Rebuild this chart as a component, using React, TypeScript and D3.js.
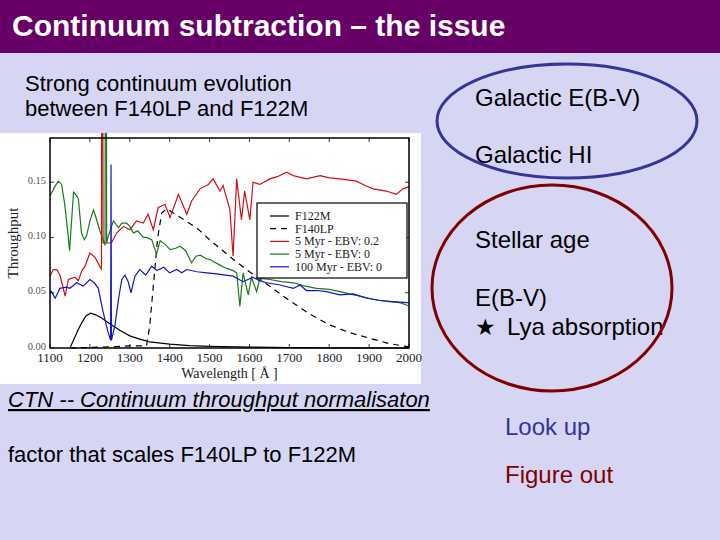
import * as d3 from 'd3';

type Pt = [number, number];

// wavelength [Å], throughput
const f122m: Pt[] = [
  [1150, 0], [1160, 0.008], [1170, 0.016], [1180, 0.023], [1190, 0.029], [1202, 0.0315],
  [1215, 0.03], [1230, 0.027], [1250, 0.022], [1275, 0.016], [1300, 0.011], [1325, 0.008],
  [1350, 0.0055], [1400, 0.0035], [1450, 0.0022], [1500, 0.0015], [1600, 0.0008],
  [1700, 0.0004], [1800, 0.0002], [2000, 0],
];

const f140lp: Pt[] = [
  [1150, 0], [1250, 0.001], [1300, 0.002], [1342, 0.002], [1350, 0.02], [1360, 0.06],
  [1370, 0.1], [1380, 0.122], [1392, 0.126], [1410, 0.122], [1440, 0.115], [1470, 0.108],
  [1500, 0.098], [1530, 0.089], [1560, 0.08], [1600, 0.069], [1650, 0.056], [1700, 0.043],
  [1750, 0.031], [1800, 0.021], [1850, 0.014], [1900, 0.009], [1950, 0.004], [2000, 0.001],
];

const myr5Ebv02: Pt[] = [
  [1100, 0.065], [1108, 0.071], [1117, 0.071], [1125, 0.066], [1138, 0.047], [1146, 0.062],
  [1163, 0.064], [1171, 0.061], [1180, 0.07], [1188, 0.074], [1200, 0.086], [1213, 0.082],
  [1229, 0.071], [1231, 0.6], [1233, 0.095], [1254, 0.095], [1267, 0.104], [1284, 0.11],
  [1300, 0.107], [1317, 0.115], [1334, 0.113], [1346, 0.121], [1359, 0.107], [1371, 0.127],
  [1388, 0.13], [1401, 0.118], [1422, 0.139], [1443, 0.121], [1455, 0.133], [1476, 0.144],
  [1497, 0.148], [1509, 0.153], [1526, 0.142], [1534, 0.147], [1551, 0.125], [1559, 0.083],
  [1568, 0.153], [1580, 0.116], [1588, 0.142], [1601, 0.116], [1609, 0.15], [1626, 0.148],
  [1651, 0.153], [1670, 0.155], [1693, 0.159], [1710, 0.156], [1743, 0.153], [1777, 0.156],
  [1800, 0.154], [1827, 0.153], [1868, 0.151], [1890, 0.147], [1910, 0.144], [1943, 0.142],
  [1968, 0.139], [1985, 0.144], [2000, 0.146],
];

const myr5Ebv0: Pt[] = [
  [1100, 0.138], [1104, 0.14], [1112, 0.146], [1121, 0.151], [1129, 0.148], [1137, 0.13],
  [1146, 0.1], [1149, 0.088], [1159, 0.141], [1166, 0.138], [1171, 0.135], [1179, 0.104],
  [1186, 0.098], [1192, 0.102], [1200, 0.115], [1209, 0.125], [1217, 0.116], [1225, 0.106],
  [1238, 0.093], [1240, 0.6], [1242, 0.095], [1246, 0.101], [1259, 0.115], [1272, 0.109],
  [1280, 0.113], [1292, 0.113], [1300, 0.11], [1309, 0.104], [1320, 0.106], [1334, 0.1],
  [1342, 0.1], [1355, 0.098], [1367, 0.085], [1376, 0.097], [1388, 0.094], [1401, 0.089],
  [1414, 0.09], [1426, 0.092], [1440, 0.088], [1455, 0.077], [1466, 0.083], [1477, 0.084],
  [1490, 0.081], [1501, 0.08], [1526, 0.075], [1543, 0.072], [1559, 0.07], [1568, 0.068],
  [1576, 0.0375], [1584, 0.068], [1597, 0.048], [1605, 0.064], [1618, 0.051], [1626, 0.063],
  [1651, 0.062], [1680, 0.06], [1710, 0.059], [1740, 0.056], [1768, 0.054], [1800, 0.053],
  [1827, 0.051], [1850, 0.049], [1877, 0.047], [1900, 0.045], [1927, 0.043], [1950, 0.042],
  [1977, 0.041], [2000, 0.038],
];

const myr100Ebv0: Pt[] = [
  [1100, 0.052], [1104, 0.051], [1113, 0.045], [1125, 0.054], [1140, 0.055], [1150, 0.054],
  [1167, 0.059], [1183, 0.056], [1200, 0.062], [1211, 0.059], [1221, 0.054], [1233, 0.033],
  [1245, 0.015], [1252, 0.007], [1253, 0.166], [1254, 0.007], [1263, 0.021], [1272, 0.045],
  [1280, 0.062], [1288, 0.066], [1296, 0.06], [1303, 0.05], [1313, 0.065], [1325, 0.071],
  [1340, 0.066], [1355, 0.074], [1368, 0.07], [1385, 0.073], [1400, 0.068], [1418, 0.071],
  [1430, 0.068], [1443, 0.071], [1468, 0.069], [1493, 0.068], [1518, 0.067], [1540, 0.066],
  [1559, 0.065], [1584, 0.06], [1609, 0.064], [1625, 0.061], [1643, 0.059], [1677, 0.057],
  [1710, 0.054], [1727, 0.057], [1743, 0.052], [1770, 0.052], [1793, 0.051], [1827, 0.048],
  [1860, 0.049], [1894, 0.045], [1927, 0.043], [1960, 0.042], [1994, 0.041], [2000, 0.041],
];

const xTicks = [1100, 1200, 1300, 1400, 1500, 1600, 1700, 1800, 1900, 2000];
const yTicks = [0, 0.05, 0.1, 0.15];

const series = [
  { name: 'F122M', data: f122m, color: '#000000', dash: undefined },
  { name: 'F140LP', data: f140lp, color: '#000000', dash: '6,5' },
  { name: '5 Myr - EBV: 0.2', data: myr5Ebv02, color: '#cc1111', dash: undefined },
  { name: '5 Myr - EBV: 0', data: myr5Ebv0, color: '#1a7a1a', dash: undefined },
  { name: '100 Myr - EBV: 0', data: myr100Ebv0, color: '#1414c0', dash: undefined },
];

const W = 720;
const H = 540;
const sans = '"Liberation Sans", Arial, sans-serif';
const serif = '"Liberation Serif", "DejaVu Serif", serif';

const img = { x: 0, y: 133, w: 421, h: 251 };
const plot = { left: 50, right: 409, top: 138, bottom: 348 };

const App = () => {
  const x = d3.scaleLinear().domain([1100, 2000]).range([plot.left, plot.right]);
  const y = d3.scaleLinear().domain([0, 0.19]).range([plot.bottom, plot.top]);
  const line = d3.line<Pt>().x(d => x(d[0])).y(d => y(d[1]));

  const leg = { x: 257, y: 203, w: 150, h: 75 };

  return (
    <svg width={W} height={H} style={{ position: 'absolute', left: 0, top: 0, display: 'block' }}>
      <defs>
        <clipPath id="imgclip">
          <rect x={img.x} y={img.y} width={img.w} height={img.h} />
        </clipPath>
      </defs>
      <rect width={W} height={H} fill="#d6d6f4" />
      <rect width={W} height={53} fill="#660066" />
      <text x={12} y={36} fill="#fff" fontFamily={sans} fontWeight="bold" fontSize={30}>
        Continuum subtraction – the issue
      </text>

      <g fontFamily={sans} fontSize={22} fill="#000">
        <text x={25} y={91}>Strong continuum evolution</text>
        <text x={25} y={116}>between F140LP and F122M</text>
        <text x={8} y={407} fontStyle="italic" style={{ textDecoration: 'underline' }}>
          CTN -- Continuum throughput normalisaton
        </text>
        <text x={8} y={462}>factor that scales F140LP to F122M</text>
      </g>

      <g fontFamily={sans} fontSize={24} fill="#000">
        <text x={475} y={106}>Galactic E(B-V)</text>
        <text x={475} y={163}>Galactic HI</text>
        <text x={475} y={248}>Stellar age</text>
        <text x={475} y={306}>E(B-V)</text>
        <text x={475} y={335}>
          <tspan fontFamily='"DejaVu Sans", sans-serif' fontSize={23}>★</tspan>
          <tspan x={507}>Lya absorption</tspan>
        </text>
        <text x={505} y={435} fill="#333399">Look up</text>
        <text x={505} y={483} fill="#800000">Figure out</text>
      </g>

      <ellipse cx={567} cy={121} rx={130} ry={57} fill="none" stroke="#34349a" strokeWidth={3} />
      <ellipse cx={552} cy={288} rx={120} ry={103} fill="none" stroke="#800000" strokeWidth={3} />

      {/* embedded plot image */}
      <rect x={img.x} y={img.y} width={img.w} height={img.h} fill="#ffffff" />
      <g clipPath="url(#imgclip)">
        {series.map(s => (
          <path
            key={s.name}
            d={line(s.data) ?? ''}
            fill="none"
            stroke={s.color}
            strokeWidth={1.2}
            strokeDasharray={s.dash}
          />
        ))}
      </g>
      <rect
        x={plot.left}
        y={plot.top}
        width={plot.right - plot.left}
        height={plot.bottom - plot.top}
        fill="none"
        stroke="#000"
        strokeWidth={1.5}
      />
      {xTicks.map(t => (
        <g key={t}>
          <line x1={x(t)} x2={x(t)} y1={plot.bottom} y2={plot.bottom - 4} stroke="#000" strokeWidth={0.8} />
          <line x1={x(t)} x2={x(t)} y1={plot.top} y2={plot.top + 4} stroke="#000" strokeWidth={0.8} />
          <text x={x(t)} y={362} textAnchor="middle" fontFamily={serif} fontSize={13} fill="#222">
            {t}
          </text>
        </g>
      ))}
      {yTicks.map(t => (
        <g key={t}>
          <line x1={plot.left} x2={plot.left + 4} y1={y(t)} y2={y(t)} stroke="#000" strokeWidth={0.8} />
          <line x1={plot.right} x2={plot.right - 4} y1={y(t)} y2={y(t)} stroke="#000" strokeWidth={0.8} />
          <text x={46} y={y(t) + 1.5} textAnchor="end" fontFamily={serif} fontSize={10.5} fill="#555">
            {d3.format('.2f')(t)}
          </text>
        </g>
      ))}
      <text x={(plot.left + plot.right) / 2} y={378} textAnchor="middle" fontFamily={serif} fontSize={14} fill="#222">
        Wavelength [ Å ]
      </text>
      <text
        transform={`translate(18,${(plot.top + plot.bottom) / 2}) rotate(-90)`}
        textAnchor="middle"
        fontFamily={serif}
        fontSize={15}
        fill="#222"
      >
        Throughput
      </text>

      <g>
        <rect x={leg.x} y={leg.y} width={leg.w} height={leg.h} fill="#fff" stroke="#000" strokeWidth={1.2} />
        {series.map((s, i) => {
          const cy = leg.y + 13 + i * 12.7;
          return (
            <g key={s.name}>
              <line x1={270} x2={289} y1={cy} y2={cy} stroke={s.color} strokeWidth={1.2} strokeDasharray={s.dash} />
              <text x={295} y={cy + 4} fontFamily={serif} fontSize={12} fill="#222">
                {s.name}
              </text>
            </g>
          );
        })}
      </g>
    </svg>
  );
};

export default App;
